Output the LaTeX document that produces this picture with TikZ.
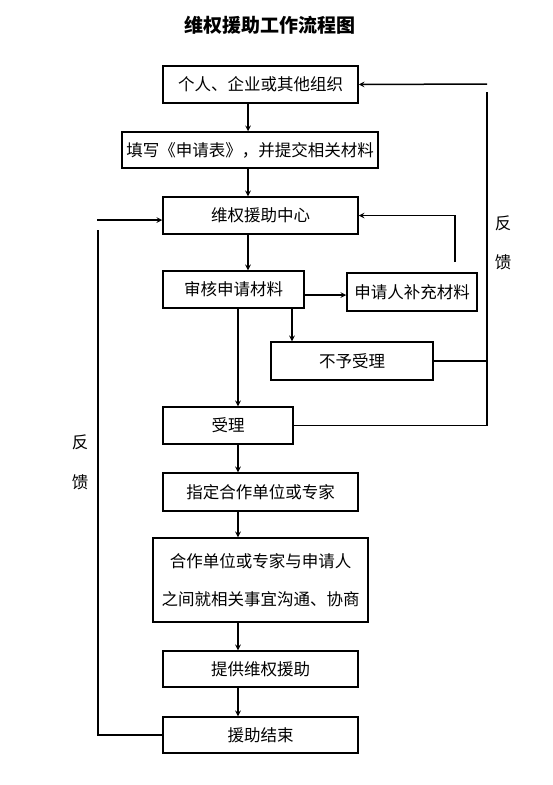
\documentclass[tikz,border=0pt]{standalone}
\usepackage{fontspec}
\setmainfont{Noto Sans CJK SC}
\usetikzlibrary{arrows,positioning}

\begin{document}
\begin{tikzpicture}[
    x=1pt, y=-1pt,
    box/.style={draw, inner sep=0pt, align=center, font=\fontsize{16.5}{38}\selectfont, minimum height=37pt},
    lbl/.style={font=\fontsize{16.5}{18}\selectfont},
    every path/.style={line width=1.5pt, >=stealth}]
    \fill[white] (0,0) rectangle (552,785);
    \useasboundingbox (0,0) rectangle (552,785);
    \node[font=\fontsize{19}{22}\selectfont\bfseries] (title) at (270,25) {维权援助工作流程图};
    \node[box, minimum width=195pt] (org) at (260.5,84.5) {个人、企业或其他组织};
    \node[box, minimum width=256pt, minimum height=36pt] (form) at (250,150) {填写《申请表》，并提交相关材料};
    \node[box, minimum width=195pt] (center) at (260.5,215.5) {维权援助中心};
    \node[box, minimum width=141pt] (review) at (233.5,289.5) {审核申请材料};
    \node[box, minimum width=130pt, minimum height=38pt] (supply) at (412,292) {申请人补充材料};
    \node[box, minimum width=162pt, minimum height=38pt] (reject) at (352,361) {不予受理};
    \node[box, minimum width=130pt] (accept) at (228,425.5) {受理};
    \node[box, minimum width=195pt, minimum height=38pt] (assign) at (260.5,492) {指定合作单位或专家};
    \node[box, minimum width=215pt, minimum height=84pt] (consult) at (260.5,580) {合作单位或专家与申请人\\之间就相关事宜沟通、协商};
    \node[box, minimum width=195pt, minimum height=36pt] (provide) at (260.5,669) {提供维权援助};
    \node[box, minimum width=195pt, minimum height=36pt] (finish) at (260.5,735) {援助结束};
    % feedback labels
    \node[lbl] (fbR1) at (503,223) {反};
    \node[lbl] (fbR2) at (503,262) {馈};
    \node[lbl] (fbL1) at (80,442) {反};
    \node[lbl] (fbL2) at (80,482) {馈};
    % helper points
    \coordinate (s1) at (248,0);
    \coordinate (s2) at (238,0);
    \coordinate (s3) at (292,0);
    \coordinate (s4) at (0,295);
    \coordinate (topR) at (487,84);
    \coordinate (sideR) at (487,92);
    \coordinate (sup) at (455,262);
    \coordinate (inL) at (97,220);
    \coordinate (sideL) at (98,230);
    % main flow
    \draw[->] (org.south -| s1) -- (form.north -| s1);
    \draw[->] (form.south -| s1) -- (center.north -| s1);
    \draw[->] (center.south -| s1) -- (review.north -| s1);
    \draw[->] (review.east |- s4) -- (supply.west |- s4);
    \draw[->] (review.south -| s3) -- (reject.north -| s3);
    \draw[->] (review.south -| s2) -- (accept.north -| s2);
    \draw[->] (accept.south -| s2) -- (assign.north -| s2);
    \draw[->] (assign.south -| s2) -- (consult.north -| s2);
    \draw[->] (consult.south -| s2) -- (provide.north -| s2);
    \draw[->] (provide.south -| s2) -- (finish.north -| s2);
    % loops back
    \draw[->] (sup) |- (center.east);
    \draw (reject.east) -- (reject.east -| sideR);
    \draw (accept.east) -| (sideR);
    \draw[->] (topR) -- (org.east);
    \draw (finish.west) -| (sideL);
    \draw[->] (inL) -- (inL -| center.west);
\end{tikzpicture}
\end{document}
